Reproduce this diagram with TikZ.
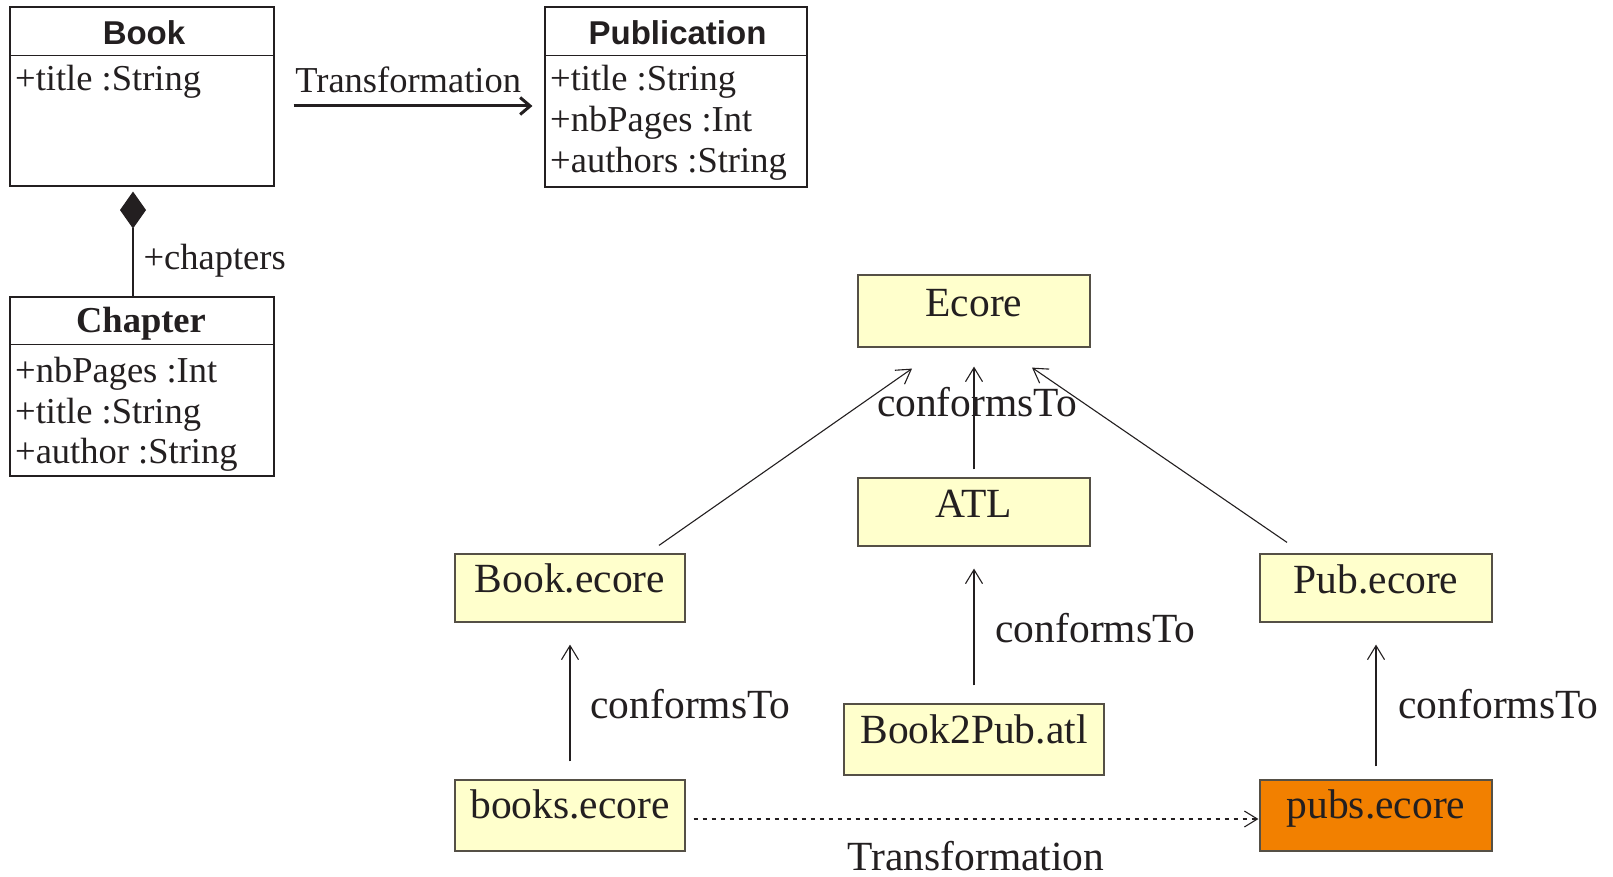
\documentclass[tikz,border=0pt]{standalone}
\usepackage{fontspec}
\setmainfont{Liberation Serif}
\newfontfamily\hdfont{Liberation Sans}
\usetikzlibrary{arrows.meta}
\definecolor{boxyellow}{RGB}{255,255,204}
\definecolor{boxorange}{RGB}{242,128,0}
\definecolor{ink}{RGB}{35,31,32}
\definecolor{boxline}{RGB}{85,80,70}
\tikzset{
  umlbox/.style={draw=ink, line width=1.1pt, inner sep=0pt, rectangle},
  sepline/.style={draw=ink, line width=1.1pt},
  hdr/.style={font=\hdfont\bfseries\fontsize{33}{36}\selectfont, anchor=base, inner sep=0pt, text=ink},
  chdr/.style={font=\bfseries\fontsize{36.5}{41}\selectfont, anchor=base, inner sep=0pt, text=ink},
  attr/.style={font=\fontsize{36.5}{41}\selectfont, anchor=base west, inner sep=0pt, text=ink},
  mbox/.style={draw=boxline, line width=1.2pt, fill=boxyellow, inner sep=0pt, minimum width=232pt, font=\fontsize{41.5}{44}\selectfont, text=ink},
  lbl/.style={font=\fontsize{41.5}{44}\selectfont, inner sep=0pt, text=ink},
  ulbl/.style={font=\fontsize{36.5}{41}\selectfont, inner sep=0pt, text=ink},
  conf/.style={draw=ink, line width=1.1pt, -{Straight Barb[length=14pt,width=17pt]}},
}
\begin{document}
\begin{tikzpicture}[x=1pt,y=-1pt]
\useasboundingbox (0,0) rectangle (1613,877);
\fill[white] (0,0) rectangle (1613,877);

% ---------- UML classes ----------
\node[umlbox, minimum width=264pt, minimum height=179pt] (book) at (142,96.5) {};
\draw[sepline] ([yshift=-49pt]book.north west) -- ([yshift=-49pt]book.north east);
\node[hdr] (bookh) at (144,45) {Book};
\node[attr] (booka1) at (15,91) {+title :String};

\node[umlbox, minimum width=262pt, minimum height=180pt] (pub) at (676,97) {};
\draw[sepline] ([yshift=-49pt]pub.north west) -- ([yshift=-49pt]pub.north east);
\node[hdr] (pubh) at (677.5,45) {Publication};
\node[attr] (puba1) at (550,91) {+title :String};
\node[attr] (puba2) at (550,132) {+nbPages :Int};
\node[attr] (puba3) at (550,173) {+authors :String};

\node[umlbox, minimum width=264pt, minimum height=179pt] (chapter) at (142,386.5) {};
\draw[sepline] ([yshift=-48pt]chapter.north west) -- ([yshift=-48pt]chapter.north east);
\node[chdr] (chaph) at (141,332) {Chapter};
\node[attr] (chapa1) at (15,382) {+nbPages :Int};
\node[attr] (chapa2) at (15,423) {+title :String};
\node[attr] (chapa3) at (15,463) {+author :String};

% composition
\draw[draw=ink, line width=1.1pt, -{Diamond[length=37pt,width=26pt,fill=ink]}]
  ([xshift=-9pt]chapter.north) -- ([xshift=-9pt,yshift=-5pt]book.south)
  node[ulbl, pos=0.255, anchor=base west, xshift=10pt] (chl) {+chapters};

% transformation (top)
\draw[draw=ink, line width=3pt, -{Straight Barb[length=10pt,width=17pt]}]
  ([xshift=19pt,yshift=-9.5pt]book.east) -- ([xshift=-12pt,yshift=-9pt]pub.west)
  node[ulbl, pos=0.48, anchor=base, yshift=13pt] (t1) {Transformation};

% ---------- model boxes ----------
\node[mbox, text height=41pt, text depth=31pt] (ecore) at (974,311) {Ecore};
\node[mbox, text height=39pt, text depth=29pt] (atl) at (974,512) {ATL};
\node[mbox, minimum width=230pt, text height=38pt, text depth=30pt] (bookecore) at (570,588) {Book.ecore};
\node[mbox, text height=39pt, text depth=29pt] (pubecore) at (1376,588) {Pub.ecore};
\node[mbox, minimum width=260pt, text height=39pt, text depth=32pt] (b2p) at (974,739.5) {Book2Pub.atl};
\node[mbox, minimum width=230pt, text height=38pt, text depth=33pt] (books) at (570,815.5) {books.ecore};
\node[mbox, fill=boxorange, text height=38pt, text depth=33pt] (pubs) at (1376,815.5) {pubs.ecore};

% ---------- connectors ----------
\draw[conf] ([xshift=89pt,yshift=8pt]bookecore.north) -- ([xshift=-62pt,yshift=-21pt]ecore.south);
\draw[conf] ([yshift=8pt]atl.north) -- ([yshift=-19pt]ecore.south)
  node[lbl, pos=0.51, anchor=base, xshift=3pt] (c1) {conformsTo};
\draw[conf] ([xshift=-89pt,yshift=11pt]pubecore.north) -- ([xshift=58pt,yshift=-20pt]ecore.south);

\draw[conf] ([yshift=18pt]b2p.north) -- ([yshift=-22pt]atl.south)
  node[lbl, pos=0.364, anchor=base west, xshift=21pt] (c2) {conformsTo};
\draw[conf] ([yshift=18pt]books.north) -- ([yshift=-22pt]bookecore.south)
  node[lbl, pos=0.364, anchor=base west, xshift=20pt] (c3) {conformsTo};
\draw[conf] ([yshift=13pt]pubs.north) -- ([yshift=-22pt]pubecore.south)
  node[lbl, pos=0.39, anchor=base west, xshift=22pt] (c4) {conformsTo};

\draw[draw=ink, line width=1.1pt, dash pattern=on 4pt off 5pt, -{Straight Barb[length=13pt,width=16pt]}]
  ([xshift=8pt,yshift=-3.5pt]books.east) -- ([xshift=-1pt,yshift=-3.5pt]pubs.west)
  node[lbl, midway, anchor=base, yshift=-51pt] (t2) {Transformation};
\end{tikzpicture}
\end{document}
